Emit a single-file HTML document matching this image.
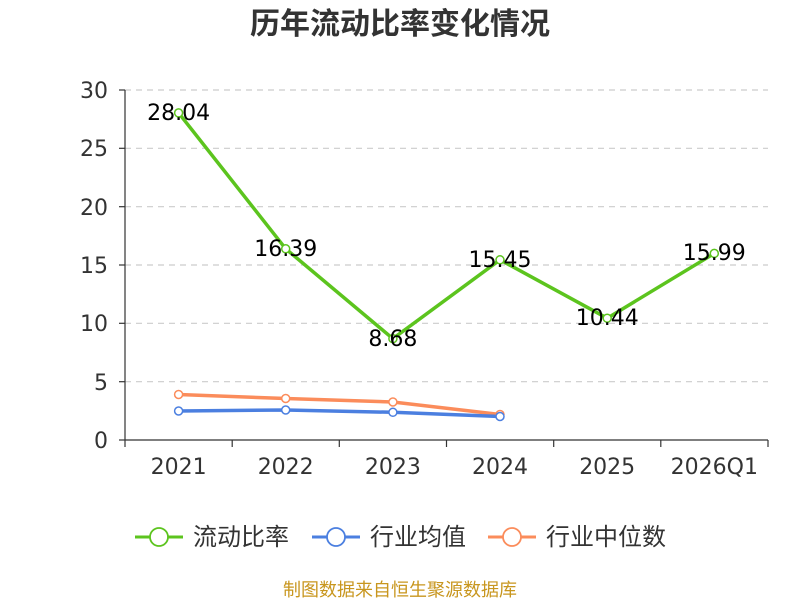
<!DOCTYPE html>
<html><head><meta charset="utf-8"><style>
body{margin:0;background:#fff;}
svg text{font-family:"DejaVu Sans","Noto Sans CJK SC",sans-serif;}
</style></head><body>
<svg width="800" height="600" xmlns="http://www.w3.org/2000/svg">
<text x="400" y="34" text-anchor="middle" font-size="30" font-weight="bold" fill="#333" font-family="Noto Sans CJK SC, sans-serif">历年流动比率变化情况</text>
<g stroke="#ccc" stroke-dasharray="6,5" stroke-width="1.2">
<line x1="125" y1="90" x2="768" y2="90"/>
<line x1="125" y1="148.3" x2="768" y2="148.3"/>
<line x1="125" y1="206.7" x2="768" y2="206.7"/>
<line x1="125" y1="265" x2="768" y2="265"/>
<line x1="125" y1="323.3" x2="768" y2="323.3"/>
<line x1="125" y1="381.7" x2="768" y2="381.7"/>
</g>
<g stroke="#333" stroke-width="1.2">
<line x1="125" y1="90" x2="125" y2="440"/>
<line x1="125" y1="440" x2="768" y2="440"/>
<line x1="119" y1="90" x2="125" y2="90"/><line x1="119" y1="148.3" x2="125" y2="148.3"/>
<line x1="119" y1="206.7" x2="125" y2="206.7"/><line x1="119" y1="265" x2="125" y2="265"/>
<line x1="119" y1="323.3" x2="125" y2="323.3"/><line x1="119" y1="381.7" x2="125" y2="381.7"/>
<line x1="119" y1="440" x2="125" y2="440"/>
<line x1="125" y1="440" x2="125" y2="447"/><line x1="232.2" y1="440" x2="232.2" y2="447"/>
<line x1="339.3" y1="440" x2="339.3" y2="447"/><line x1="446.5" y1="440" x2="446.5" y2="447"/>
<line x1="553.7" y1="440" x2="553.7" y2="447"/><line x1="660.8" y1="440" x2="660.8" y2="447"/>
<line x1="768" y1="440" x2="768" y2="447"/>
</g>
<g font-size="22" fill="#333" text-anchor="end">
<text x="108" y="98">30</text><text x="108" y="156">25</text><text x="108" y="215">20</text>
<text x="108" y="273">15</text><text x="108" y="331">10</text><text x="108" y="390">5</text><text x="108" y="448">0</text>
</g>
<g font-size="22" fill="#333" text-anchor="middle">
<text x="178.6" y="474">2021</text><text x="285.7" y="474">2022</text><text x="392.9" y="474">2023</text>
<text x="500" y="474">2024</text><text x="607.2" y="474">2025</text><text x="714.3" y="474">2026Q1</text>
</g>
<polyline fill="none" stroke="#fb8c5b" stroke-width="3.5" points="178.6,394.5 285.7,398.5 392.9,402 500,414.5"/>
<polyline fill="none" stroke="#4b7fe0" stroke-width="3.5" points="178.6,411 285.7,410 392.9,412.3 500,416.5"/>
<polyline fill="none" stroke="#5cc41e" stroke-width="3.5" points="178.6,112.9 285.7,248.8 392.9,338.7 500,259.8 607.2,318.2 714.3,253.4"/>
<g fill="#fff" stroke-width="1.5">
<g stroke="#fb8c5b"><circle cx="178.6" cy="394.5" r="4"/><circle cx="285.7" cy="398.5" r="4"/><circle cx="392.9" cy="402" r="4"/><circle cx="500" cy="414.5" r="4"/></g>
<g stroke="#4b7fe0"><circle cx="178.6" cy="411" r="4"/><circle cx="285.7" cy="410" r="4"/><circle cx="392.9" cy="412.3" r="4"/><circle cx="500" cy="416.5" r="4"/></g>
<g stroke="#5cc41e"><circle cx="178.6" cy="112.9" r="4"/><circle cx="285.7" cy="248.8" r="4"/><circle cx="392.9" cy="338.7" r="4"/><circle cx="500" cy="259.8" r="4"/><circle cx="607.2" cy="318.2" r="4"/><circle cx="714.3" cy="253.4" r="4"/></g>
</g>
<g font-size="22" fill="#000" text-anchor="middle">
<text x="178.6" y="120">28.04</text><text x="285.7" y="256">16.39</text><text x="392.9" y="346">8.68</text>
<text x="500" y="267">15.45</text><text x="607.2" y="325">10.44</text><text x="714.3" y="260">15.99</text>
</g>
<g stroke-width="3" fill="#fff">
<line x1="135" y1="537" x2="183" y2="537" stroke="#5cc41e"/><circle cx="159" cy="537" r="9" stroke="#5cc41e" stroke-width="1.8"/>
<line x1="312" y1="537" x2="360" y2="537" stroke="#4b7fe0"/><circle cx="336" cy="537" r="9" stroke="#4b7fe0" stroke-width="1.8"/>
<line x1="488" y1="537" x2="536" y2="537" stroke="#fb8c5b"/><circle cx="512" cy="537" r="9" stroke="#fb8c5b" stroke-width="1.8"/>
</g>
<g font-size="24" fill="#333">
<text x="193" y="545">流动比率</text><text x="370" y="545">行业均值</text><text x="546" y="545">行业中位数</text>
</g>
<text x="400" y="596" text-anchor="middle" font-size="18" fill="#c8961e">制图数据来自恒生聚源数据库</text>
</svg>
</body></html>
